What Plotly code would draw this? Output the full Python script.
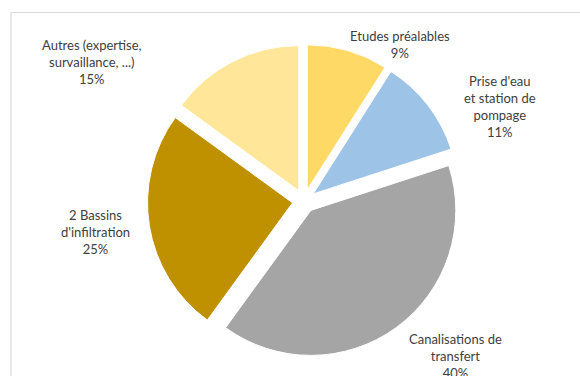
import plotly.graph_objects as go

# Data
categories = ["Etudes préalables", "Prise d'eau<br>et station de<br>pompage", "Canalisations de<br>transfert",
              "2 Bassins<br>d'infiltration", "Autres (expertise,<br>survaillance, ...)"]
values = [9, 11, 40, 25, 15]
colors = ["#FFD966", "#9DC3E6", "#A5A5A5", "#BF9000", "#FFE699"]

# Label positions (pixels, centre of text block)
label_pos = [(400, 44), (500, 107), (455, 356), (95, 232), (92, 62)]

W, H = 580, 376
cx, cy, r, pull = 304, 201, 145, 0.08
half = r * (1 + pull)

fig = go.Figure(go.Pie(
    labels=categories,
    values=values,
    sort=False,
    direction="clockwise",
    rotation=0,
    pull=[pull] * len(values),
    marker=dict(colors=colors, line=dict(color="white", width=1)),
    textinfo="none",
    hoverinfo="label+percent",
    showlegend=False,
    domain=dict(x=[(cx - half) / W, (cx + half) / W], y=[1 - (cy + half) / H, 1 - (cy - half) / H]),
))

total = sum(values)
annotations = []
for lab, v, (px, py) in zip(categories, values, label_pos):
    annotations.append(dict(
        x=px / W, y=1 - py / H, xref="paper", yref="paper",
        text=f"{lab}<br>{round(100 * v / total)}%",
        showarrow=False, xanchor="center", yanchor="middle",
        font=dict(family="Lato, Liberation Sans, sans-serif", size=13, color="#404040"),
    ))

fig.update_layout(
    width=W, height=H,
    margin=dict(l=0, r=0, t=0, b=0),
    paper_bgcolor="white", plot_bgcolor="white",
    annotations=annotations,
    shapes=[dict(type="rect", xref="paper", yref="paper",
                 x0=11 / W, y0=-0.2, x1=1.2, y1=1 - 12.5 / H,
                 line=dict(color="#D9D9D9", width=1.2), layer="below")],
)

fig.write_html("out.html")
